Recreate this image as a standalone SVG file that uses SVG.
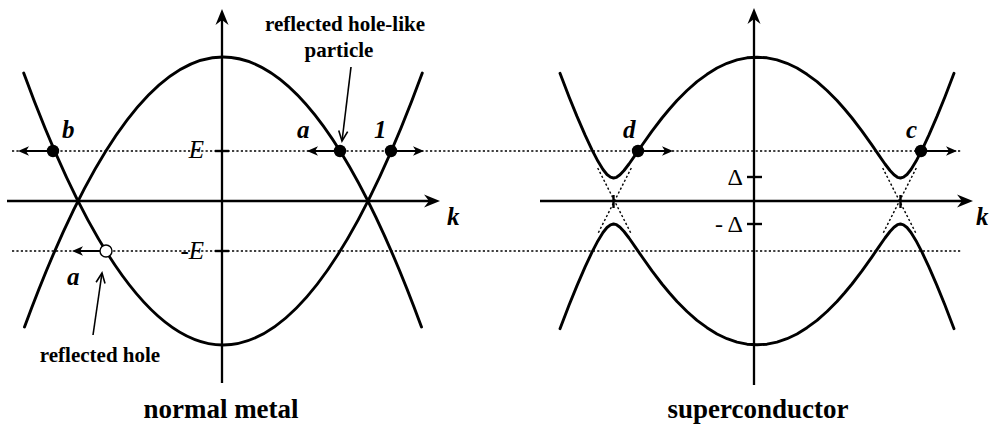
<svg xmlns="http://www.w3.org/2000/svg" width="995" height="426" viewBox="0 0 995 426">
<defs>
<marker id="ah" markerUnits="userSpaceOnUse" viewBox="-13 -6 14 12" refX="-6" refY="0" markerWidth="14" markerHeight="12" orient="auto">
<path d="M0,0 L-11,-4.8 L-8,0 L-11,4.8 Z" fill="#000"/>
</marker>
<marker id="ax" markerUnits="userSpaceOnUse" viewBox="-18 -8 19 16" refX="-9" refY="0" markerWidth="19" markerHeight="16" orient="auto">
<path d="M0,0 L-16,-6.5 L-11,0 L-16,6.5 Z" fill="#000"/>
</marker>
<marker id="av" markerUnits="userSpaceOnUse" viewBox="-12 -7 14 14" refX="0" refY="0" markerWidth="14" markerHeight="14" orient="auto">
<path d="M-10,-4.5 L0,0 L-10,4.5" fill="none" stroke="#000" stroke-width="1.6"/>
</marker>
</defs>
<style>
.ax{stroke:#000;stroke-width:2.7;fill:none}
.vax{stroke:#000;stroke-width:2.3;fill:none}
.band{stroke:#000;stroke-width:2.9;fill:none;stroke-linejoin:round;stroke-linecap:round}
.dot{stroke:#000;stroke-width:1.4;stroke-dasharray:2.2 2.2;fill:none}
.tick{stroke:#000;stroke-width:2.4}
.parr{stroke:#000;stroke-width:2;fill:none}
.ptr{stroke:#000;stroke-width:1.6;fill:none}
.lbl{font-family:"Liberation Serif","Times New Roman",serif;font-weight:bold;font-style:italic;font-size:25px;fill:#000}
.en{font-family:"Liberation Serif","Times New Roman",serif;font-style:italic;font-size:25px;fill:#000}
.gap{font-family:"Liberation Serif","Times New Roman",serif;font-size:24px;fill:#000}
.note{font-family:"Liberation Serif","Times New Roman",serif;font-weight:bold;font-size:21px;fill:#000}
.title{font-family:"Liberation Serif","Times New Roman",serif;font-weight:bold;font-size:27px;fill:#000}
</style>
<rect width="995" height="426" fill="#fff"/>

<g id="energy-levels">
<line class="dot" x1="12" y1="151" x2="962" y2="151"/>
<line class="dot" x1="12" y1="251" x2="962" y2="251"/>
</g>

<g id="normal-metal">
<g id="nm-axes">
<line class="ax" x1="7" y1="201" x2="431" y2="201" marker-end="url(#ax)"/>
<line class="vax" x1="222" y1="383" x2="222" y2="18" marker-end="url(#ax)"/>
<line class="tick" x1="215" y1="151" x2="229" y2="151"/>
<line class="tick" x1="215" y1="251" x2="229" y2="251"/>
<text class="lbl" x="447" y="225">k</text>
<text class="en" x="204" y="158" text-anchor="end">E</text>
<text class="en" x="204" y="259" text-anchor="end">-E</text>
</g>
<g id="nm-bands">
<path class="band" d="M24.5,327 Q223,-213 421.5,327"/>
<path class="band" d="M23.7,73 Q223,617 422.3,73"/>
</g>
</g>

<g id="superconductor">
<g id="sc-axes">
<line class="ax" x1="540" y1="201" x2="964" y2="201" marker-end="url(#ax)"/>
<line class="vax" x1="754" y1="385" x2="754" y2="17" marker-end="url(#ax)"/>
<line class="tick" x1="747" y1="177" x2="762" y2="177"/>
<line class="tick" x1="747" y1="224" x2="762" y2="224"/>
<text class="lbl" x="976" y="225">k</text>
<text class="gap" x="743" y="185" text-anchor="end">Δ</text>
<text class="gap" x="743" y="232" text-anchor="end">- Δ</text>
</g>
<g id="sc-bands" transform="translate(1.5,0)">
<line class="dot" x1="629.8" y1="168" x2="596.2" y2="234"/>
<line class="dot" x1="596.2" y1="168" x2="629.8" y2="234"/>
<line class="dot" x1="881.2" y1="168" x2="914.8" y2="234"/>
<line class="dot" x1="914.8" y1="168" x2="881.2" y2="234"/>
<line class="tick" x1="612" y1="195" x2="612" y2="208"/>
<line class="tick" x1="899" y1="195" x2="899" y2="208"/>
<polyline class="band" points="558.5,73.3 567.5,96.7 575.5,116.4 583.5,134.9 590.5,149.8 596.5,161.3 601.5,169.5 605.5,174.5 609,177.2 612,178 615,177.3 618.5,174.8 622.5,170.5 627.5,164 633.5,155.4 640.5,145.2 650.5,131.1 660.5,118 668,109 675.5,100.5 685.5,90.5 695.5,81.6 705.5,74.3 715.5,68 725.5,63.3 735.5,59.9 745.5,57.8 755.5,57.2 765.5,57.8 775.5,59.9 785.5,63.3 795.5,68 805.5,74.3 815.5,81.6 825.5,90.5 835.5,100.5 843,109 850.5,118 860.5,131.1 870.5,145.2 877.5,155.4 883.5,164 888.5,170.5 892.5,174.8 896,177.3 899,178 902,177.2 905.5,174.5 909.5,169.5 914.5,161.3 920.5,149.8 927.5,134.9 935.5,116.4 943.5,96.7 952.5,73.3"/>
<polyline class="band" points="558.5,328.7 567.5,305.3 575.5,285.6 583.5,267.1 590.5,252.2 596.5,240.7 601.5,232.5 605.5,227.5 609,224.8 612,224 615,224.7 618.5,227.2 622.5,231.5 627.5,238 633.5,246.6 640.5,256.8 650.5,270.9 660.5,284 668,293 675.5,301.5 685.5,311.5 695.5,320.4 705.5,327.7 715.5,334 725.5,338.7 735.5,342.1 745.5,344.2 755.5,344.8 765.5,344.2 775.5,342.1 785.5,338.7 795.5,334 805.5,327.7 815.5,320.4 825.5,311.5 835.5,301.5 843,293 850.5,284 860.5,270.9 870.5,256.8 877.5,246.6 883.5,238 888.5,231.5 892.5,227.2 896,224.7 899,224 902,224.8 905.5,227.5 909.5,232.5 914.5,240.7 920.5,252.2 927.5,267.1 935.5,285.6 943.5,305.3 952.5,328.7"/>
</g>
</g>

<g id="connectors">
<line class="parr" x1="53" y1="151" x2="24" y2="151" marker-end="url(#ah)"/>
<line class="parr" x1="340" y1="151" x2="313" y2="151" marker-end="url(#ah)"/>
<line class="parr" x1="391" y1="151" x2="418" y2="151" marker-end="url(#ah)"/>
<line class="parr" x1="100" y1="251" x2="78" y2="251" marker-end="url(#ah)"/>
<line class="parr" x1="638" y1="151" x2="667" y2="151" marker-end="url(#ah)"/>
<line class="parr" x1="921" y1="151" x2="951" y2="151" marker-end="url(#ah)"/>
<line class="ptr" x1="351" y1="67" x2="342" y2="141" marker-end="url(#av)"/>
<line class="ptr" x1="93" y1="335" x2="102" y2="273" marker-end="url(#av)"/>
</g>

<g id="point-b"><circle cx="53" cy="151" r="6.2" fill="#000"/><text class="lbl" x="62" y="138">b</text></g>
<g id="point-a-upper"><circle cx="340" cy="151" r="6.2" fill="#000"/><text class="lbl" x="297" y="138">a</text></g>
<g id="point-1"><circle cx="391" cy="151" r="6.2" fill="#000"/><text class="lbl" x="374" y="138">1</text></g>
<g id="point-a-lower"><circle cx="106" cy="251" r="6" fill="#fff" stroke="#000" stroke-width="1.4"/><text class="lbl" x="67" y="285">a</text></g>
<g id="point-d"><circle cx="638" cy="151" r="6.2" fill="#000"/><text class="lbl" x="623" y="138">d</text></g>
<g id="point-c"><circle cx="921" cy="151" r="6.2" fill="#000"/><text class="lbl" x="906" y="138">c</text></g>

<g id="note-hole-like">
<text class="note" x="345" y="31" text-anchor="middle">reflected hole-like</text>
<text class="note" x="339" y="57" text-anchor="middle">particle</text>
</g>
<g id="note-hole"><text class="note" x="100" y="362" text-anchor="middle">reflected hole</text></g>
<g id="title-nm"><text class="title" x="221" y="418" text-anchor="middle">normal metal</text></g>
<g id="title-sc"><text class="title" x="758" y="418" text-anchor="middle">superconductor</text></g>
</svg>
